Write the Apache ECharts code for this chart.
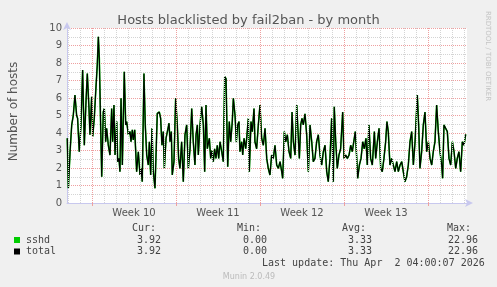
<!DOCTYPE html>
<html><head><meta charset="utf-8">
<script src="https://cdn.jsdelivr.net/npm/echarts@6/dist/echarts.min.js"></script>
<style>html,body{margin:0;padding:0;background:#f0f0f0;}#c{width:497px;height:287px;}</style>
</head><body><div id="c"></div>
<script>
// x: days relative to Monday 30 Mar 2026 00:00 (start of ISO week 14)
const dayOffsets = [-30.06,-29.97,-29.83,-29.69,-29.56,-29.42,-29.28,-29.20,-29.06,-28.92,-28.78,-28.64,-28.50,-28.39,-28.25,-28.17,-28.03,-27.94,-27.81,-27.69,-27.56,-27.47,-27.39,-27.28,-27.19,-27.06,-26.97,-26.86,-26.78,-26.64,-26.50,-26.36,-26.28,-26.17,-26.08,-25.94,-25.86,-25.75,-25.67,-25.58,-25.47,-25.31,-25.19,-25.11,-24.97,-24.83,-24.75,-24.64,-24.56,-24.44,-24.28,-24.14,-24.00,-23.92,-23.81,-23.67,-23.56,-23.44,-23.31,-23.22,-23.11,-23.00,-22.89,-22.75,-22.56,-22.39,-22.28,-22.17,-22.06,-21.97,-21.83,-21.72,-21.58,-21.50,-21.39,-21.31,-21.17,-21.03,-20.89,-20.78,-20.67,-20.53,-20.39,-20.25,-20.11,-19.97,-19.83,-19.69,-19.56,-19.42,-19.33,-19.22,-19.14,
-19.00,-18.86,-18.72,-18.61,-18.50,-18.39,-18.22,-18.11,-18.00,-17.89,-17.78,-17.67,-17.56,-17.44,-17.33,-17.19,-17.06,-16.94,-16.83,-16.69,-16.56,-16.44,-16.31,-16.22,-16.08,-15.97,-15.86,-15.75,-15.67,-15.53,-15.44,-15.33,-15.19,-15.11,-14.97,-14.89,-14.75,-14.64,-14.50,-14.42,-14.28,-14.14,-14.00,-13.86,-13.72,-13.58,-13.44,-13.31,-13.17,-13.03,-12.89,-12.75,-12.61,-12.47,-12.33,-12.19,-12.11,-11.97,-11.86,-11.72,-11.58,-11.44,-11.33,-11.22,-11.08,-10.94,-10.83,-10.72,-10.61,-10.50,-10.39,-10.25,-10.11,-9.97,-9.83,-9.69,-9.56,-9.42,-9.28,-9.14,-9.00,-8.86,-8.72,-8.58,-8.44,-8.31,
-8.17,-8.03,-7.89,-7.81,-7.69,-7.56,-7.42,-7.28,-7.11,-7.00,-6.86,-6.72,-6.58,-6.44,-6.31,-6.17,-6.06,-5.94,-5.86,-5.72,-5.58,-5.44,-5.31,-5.17,-5.06,-4.92,-4.78,-4.64,-4.47,-4.36,-4.22,-4.08,-3.94,-3.81,-3.67,-3.53,-3.42,-3.31,-3.17,-3.03,-2.89,-2.75,-2.61,-2.47,-2.33,-2.19,-2.06,-1.92,-1.78,-1.64,-1.50,-1.36,-1.22,-1.08,-0.89,-0.78,-0.67,-0.53,-0.39,-0.25,-0.11,0.03,0.17,0.31,0.44,0.58,0.72,0.86,1.00,1.14,1.22,1.33,1.47,1.61,1.75,1.89,2.03,2.17,2.31,2.44,2.58,2.72,2.86,3.00,3.14];

const sshdValues = [3.7,0.84,2.9,4.46,5.0,6.17,5.0,4.84,2.93,4.46,7.6,3.3,5.79,7.4,5.4,3.9,6.07,3.8,4.84,6.36,7.9,9.5,8.27,4.46,1.5,5.2,5.4,3.5,4.27,3.3,2.74,5.4,3.5,5.6,2.74,4.65,2.36,2.55,1.79,5.98,2.17,7.5,4.46,4.65,3.9,4.08,3.5,4.18,3.6,4.18,1.79,2.93,1.6,1.98,1.22,7.4,4.46,2.74,2.17,3.5,1.6,4.27,1.79,0.84,5.12,5.2,4.84,3.3,4.08,1.98,3.7,4.08,4.56,3.5,4.08,1.6,2.36,5.98,4.46,2.55,1.98,3.5,1.22,3.9,4.46,1.98,3.1,5.4,3.5,2.17,3.9,4.46,2.74,
4.46,5.5,4.46,1.79,5.6,3.1,3.7,2.55,3.0,2.36,3.1,2.55,3.3,2.55,3.5,2.93,2.36,7.22,7.1,2.07,4.65,3.5,4.65,5.98,5.0,3.5,4.46,4.65,2.93,3.5,2.74,3.7,3.1,3.7,4.84,1.79,4.65,4.08,5.4,3.5,3.1,4.46,5.6,3.7,3.3,4.27,2.55,1.98,1.6,2.74,2.55,3.3,2.17,1.98,2.36,1.79,1.41,4.08,3.5,3.9,2.93,2.55,5.2,3.5,2.74,5.6,4.08,2.55,4.46,4.84,4.46,5.1,3.9,1.79,4.46,3.5,2.36,2.55,3.5,3.9,2.74,2.17,2.93,3.3,1.79,1.22,
2.55,4.84,1.22,5.5,3.5,1.98,2.74,3.1,5.2,2.55,2.74,2.55,2.74,3.3,2.93,2.93,4.08,2.55,1.41,2.17,2.55,3.5,3.1,3.7,2.17,4.46,2.55,2.17,4.08,2.55,3.5,4.27,1.98,1.79,2.55,3.5,4.65,4.08,2.17,2.55,2.17,1.79,2.36,1.79,2.17,2.36,1.79,1.22,1.5,2.17,3.5,4.08,2.17,3.5,6.17,4.46,1.98,2.93,4.46,5.2,2.93,3.5,2.55,2.17,2.93,3.5,5.6,4.08,2.93,2.17,1.41,4.46,4.27,4.08,2.55,2.17,3.5,2.93,1.98,2.55,2.93,1.79,3.5,3.3,3.92];

// "total" is the sum of the only field (sshd), so it carries the same readings
const totalValues = sshdValues;

const xRange = [-30.083, 3.25];
const dayLines = [-30,-29,-28,-27,-26,-25,-24,-23,-22,-21,-20,-19,-18,-17,-16,-15,-14,-13,-12,-11,-10,-9,-8,-7,-6,-5,-4,-3,-2,-1,0,1,2,3];
const weekBoundaries = [-28,-21,-14,-7,0];
const weekCenters = [-24.5,-17.5,-10.5,-3.5];
const weekLabels = ['Week 10','Week 11','Week 12','Week 13'];
const yTicks = [0,10,1];

const legendNames = ['sshd','total'];
const legendColors = ['#00cc00','#000000'];
const statHeaders = ['Cur:','Min:','Avg:','Max:'];
const statRows = [['3.92','0.00','3.33','22.96'],['3.92','0.00','3.33','22.96']];
const lastUpdate = 'Last update: Thu Apr  2 04:00:07 2026';
const footer = 'Munin 2.0.49';
const titleText = 'Hosts blacklisted by fail2ban - by month';
const yName = 'Number of hosts';
const sideText = 'RRDTOOL / TOBI OETIKER';

const GRID_GREY = '#d4d4d4';
const GRID_RED = '#eea0a0';
const AXIS_BLUE = '#c8c8ee';
const TXT = '#555555';
const MONO = '"DejaVu Sans Mono", monospace';
const SANS = '"DejaVu Sans", sans-serif';

const chart = echarts.init(document.getElementById('c'), null, {renderer:'canvas'});

const gridLineData = dayLines.map(d => {
  const isWeek = weekBoundaries.indexOf(d) >= 0;
  return {xAxis: d, lineStyle: {color: isWeek ? GRID_RED : GRID_GREY, type: [1,1], width: 1}};
});

const headerX = [132, 237, 342, 447];
const valueX = [137, 243, 348, 448];
const rowY = [240, 251.5];
const graphics = [];
statHeaders.forEach((h, i) => graphics.push({type:'text', left: headerX[i], top: 223, style:{text:h, font:'10px ' + MONO, fill:'#444'}}));
legendNames.forEach((n, r) => {
  graphics.push({type:'rect', shape:{x:14, y:rowY[r]-3, width:6, height:6}, style:{fill:legendColors[r]}});
  graphics.push({type:'text', left:26, top:rowY[r]-5, style:{text:n, font:'10px ' + MONO, fill:'#444'}});
  statRows[r].forEach((v, i) => graphics.push({type:'text', left:valueX[i], top:rowY[r]-5, style:{text:v, font:'10px ' + MONO, fill:'#444'}}));
});
graphics.push({type:'text', left:262, top:258, style:{text:lastUpdate, font:'10px ' + MONO, fill:'#444'}});
graphics.push({type:'text', x:249, y:277, style:{text:footer, font:'8px ' + SANS, fill:'#bbbbbb', align:'center', verticalAlign:'middle'}});
graphics.push({type:'text', x:488, y:56, rotation:-Math.PI/2, style:{text:sideText, font:'7px ' + SANS, fill:'#c4c4c4', align:'center', verticalAlign:'middle'}});

chart.setOption({
  animation: false,
  backgroundColor: '#f0f0f0',
  title: {text: titleText, left: 'center', top: 9, textStyle:{fontFamily: SANS, fontSize: 13, fontWeight:'normal', color: TXT}},
  grid: {left: 67, right: 30, top: 28, bottom: 84, show: true, backgroundColor: '#ffffff', borderWidth: 0, containLabel: false, outerBoundsMode: 'none'},
  xAxis: {
    type: 'value', min: xRange[0], max: xRange[1],
    axisLine: {show: true, onZero: false, lineStyle: {color: AXIS_BLUE}, symbol: ['none','arrow'], symbolSize: [6,8], symbolOffset: [0,6]},
    axisTick: {show: true, customValues: weekBoundaries, length: 3, lineStyle: {color: GRID_RED}},
    splitLine: {show: false},
    axisLabel: {customValues: weekCenters, margin: 5, fontFamily: SANS, fontSize: 10, color: TXT,
      formatter: v => { let best = 0; weekCenters.forEach((c, i) => { if (Math.abs(c - v) < Math.abs(weekCenters[best] - v)) best = i; }); return weekLabels[best]; }}
  },
  yAxis: {
    type: 'value', min: yTicks[0], max: yTicks[1], interval: yTicks[2],
    name: yName, nameLocation: 'middle', nameGap: 47, nameTextStyle: {fontFamily: SANS, fontSize: 12, color: TXT, padding: [0, 0, 0, 8]},
    axisLine: {show: true, onZero: false, lineStyle: {color: AXIS_BLUE}, symbol: ['none','arrow'], symbolSize: [6,8], symbolOffset: [0,6]},
    axisTick: {show: false},
    axisLabel: {margin: 5, fontFamily: SANS, fontSize: 10, color: TXT},
    splitLine: {show: true, lineStyle: {color: GRID_RED, type: [1,1]}},
    minorTick: {show: false, splitNumber: 2},
    minorSplitLine: {show: true, lineStyle: {color: GRID_GREY, type: [1,1]}}
  },
  graphic: graphics,
  series: [
    {type: 'line', data: [], z: 1, silent: true,
     markLine: {silent: true, symbol: 'none', label: {show: false}, animation: false, data: gridLineData}},
    {name: 'sshd', type: 'line', z: 2, showSymbol: false, silent: true,
     data: dayOffsets.map((d, i) => [d, sshdValues[i]]),
     lineStyle: {color: legendColors[0], width: 1.6}},
    {name: 'total', type: 'line', z: 3, showSymbol: false, silent: true,
     data: dayOffsets.map((d, i) => [d, totalValues[i]]),
     lineStyle: {color: legendColors[1], width: 1.2}}
  ]
});
</script></body></html>
